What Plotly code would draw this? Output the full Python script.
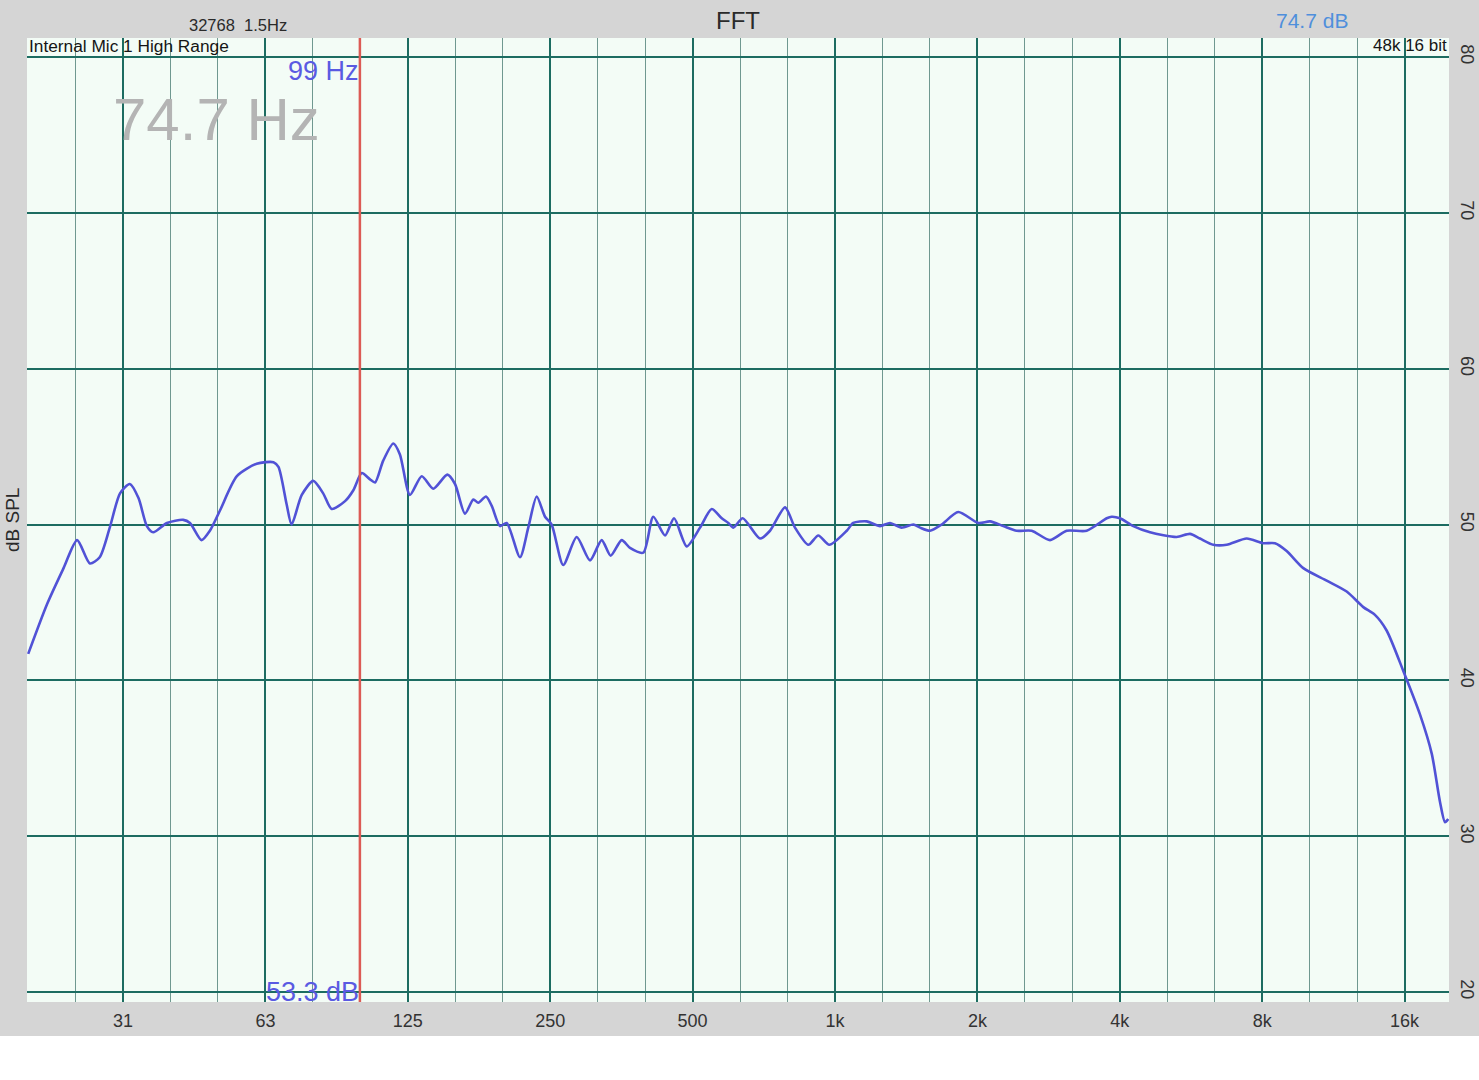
import plotly.graph_objects as go

# ---- data ----
freq_hz = [19.7, 21.6, 23.4, 25.0, 26.6, 27.9, 29.3, 30.8, 32.3, 33.7, 35.1, 36.2, 38.7, 41.9,
           43.3, 45.8, 47.7, 50.1, 54.4, 59.9, 65.0, 66.6, 69.3, 71.0, 74.6, 78.9, 82.8, 86.3,
           92.1, 95.9, 99.9, 104.0, 106.6, 110.9, 116.5, 120.3, 126.3, 133.8, 141.5, 151.5,
           157.3, 165.1, 172.0, 176.2, 182.9, 188.1, 195.8, 202.3, 215.8, 224.7, 234.1, 243.8,
           251.8, 266.4, 284.4, 303.5, 321.2, 335.6, 354.1, 368.7, 393.4, 412.8, 437.2, 456.9,
           485.9, 518.4, 548.8, 576.3, 595.0, 609.7, 638.1, 694.1, 728.8, 784.1, 823.1, 878.1,
           921.9, 972.8, 1059, 1093, 1167, 1245, 1307, 1383, 1464, 1513, 1588, 1681, 1822,
           2009, 2127, 2269, 2422, 2605, 2848, 3089, 3404, 3753, 3844, 4004, 4272, 4634, 5276,
           5629, 5910, 6306, 6730, 7419, 8043, 8513, 9012, 9772, 10950, 12070, 13090, 13850,
           14660, 15900, 17250, 18260, 19010, 19480, 19790]
level_db = [41.7, 44.9, 47.2, 49.0, 47.5, 47.9, 49.8, 52.0, 52.6, 51.7, 49.9, 49.5, 50.1, 50.3,
            50.1, 49.0, 49.6, 50.9, 53.1, 53.9, 54.0, 53.7, 51.3, 50.0, 51.9, 52.8, 52.0, 51.0,
            51.5, 52.2, 53.3, 52.9, 52.7, 54.1, 55.2, 54.5, 51.9, 53.1, 52.3, 53.2,
            52.6, 50.7, 51.6, 51.4, 51.8, 51.2, 49.9, 50.1, 47.9, 49.8, 51.8, 50.5,
            50.0, 47.4, 49.2, 47.7, 49.0, 48.0, 49.0, 48.5, 48.2, 50.5, 49.3, 50.4,
            48.6, 49.8, 51.0, 50.4, 50.1, 49.8, 50.4, 49.1, 49.6, 51.1, 49.8, 48.7,
            49.3, 48.7, 49.6, 50.1, 50.2, 49.9, 50.1, 49.8, 50.0, 49.8, 49.6, 50.0, 50.8,
            50.1, 50.2, 49.9, 49.6, 49.6, 49.0, 49.6, 49.6, 50.4, 50.5, 50.4, 49.9, 49.5, 49.2,
            49.4, 49.1, 48.7, 48.7, 49.1, 48.8, 48.8, 48.3, 47.2, 46.4, 45.7, 44.7, 44.2,
            43.2, 40.6, 37.8, 35.3, 32.2, 30.9, 31.1]

x_major_ticks = [31.25, 62.5, 125, 250, 500, 1000, 2000, 4000, 8000, 16000]
x_major_text = ["31", "63", "125", "250", "500", "1k", "2k", "4k", "8k", "16k"]
x_minor_ticks = [24.8, 39.37, 49.61, 78.75, 99.21, 157.5, 198.4, 315.0, 396.9, 630.0, 793.7,
                 1260, 1587, 2520, 3175, 5040, 6350, 10079, 12699]
y_ticks = [20, 30, 40, 50, 60, 70, 80]
y_text = ["20", "30", "40", "50", "60", "70", "80"]

cursor_hz = 99
cursor_db = 53.3
peak_hz_text = "74.7 Hz"
peak_db_text = "74.7 dB"

# ---- layout geometry (pixels) ----
W, H = 1479, 1080
L, R, T, B = 27, 1449, 38, 1002
FONT = "Liberation Sans, Arial, Helvetica, sans-serif"
MAJOR = "#1c6c61"
MINOR = "#6f9890"
CURVE = "#5152d6"


def px(x):
    return (x - L) / (R - L)


def py(y):
    return (B - y) / (B - T)


fig = go.Figure()
fig.add_trace(go.Scatter(
    x=freq_hz, y=level_db, mode="lines",
    line=dict(color=CURVE, width=2.6, shape="spline", smoothing=0.7),
    hoverinfo="x+y", showlegend=False,
))

fig.update_layout(
    width=W, height=H, autosize=False,
    margin=dict(l=L, r=W - R, t=T, b=H - B, pad=0, autoexpand=False),
    paper_bgcolor="#d5d5d5",
    plot_bgcolor="#f3fcf6",
    font=dict(family=FONT, color="#333333"),
    showlegend=False,
    xaxis=dict(
        type="log", range=[1.29191, 4.29800], automargin=False,
        tickmode="array", tickvals=x_major_ticks, ticktext=x_major_text,
        showgrid=True, gridcolor=MAJOR, gridwidth=2,
        zeroline=False, showline=False, ticks="",
        tickfont=dict(size=18, color="#333333"),
        ticklabelstandoff=6,
        minor=dict(tickmode="array", tickvals=x_minor_ticks, showgrid=True,
                   gridcolor=MINOR, gridwidth=1.3, ticks=""),
    ),
    yaxis=dict(
        range=[19.36, 81.22], side="right", automargin=False,
        tickmode="array", tickvals=y_ticks, ticktext=y_text,
        tickangle=90,
        showgrid=True, gridcolor=MAJOR, gridwidth=2,
        zeroline=False, showline=False, ticks="",
        tickfont=dict(size=18, color="#333333"),
        ticklabelstandoff=7,
    ),
)

# white strip at the very bottom of the page
fig.add_shape(type="rect", xref="paper", yref="paper",
              x0=px(0), x1=px(W), y0=py(H), y1=py(1036),
              fillcolor="white", line=dict(width=0), layer="above")

# red cursor line
fig.add_shape(type="line", xref="x", yref="paper",
              x0=cursor_hz, x1=cursor_hz, y0=0, y1=1,
              line=dict(color="#dc5a55", width=2.5), layer="above")

ann = [
    dict(text="FFT", x=px(738), y=py(20), size=24, color="#2a2a2a", xanchor="center"),
    dict(text="32768\u00a0 1.5Hz", x=px(238), y=py(25), size=16.5, color="#2a2a2a", xanchor="center"),
    dict(text=peak_db_text, x=px(1312), y=py(20), size=21, color="#4f8fdc", xanchor="center"),
    dict(text="Internal Mic 1 High Range", x=px(28), y=py(46), size=17.3, color="#151515", xanchor="left"),
    dict(text="48k 16 bit", x=px(1448), y=py(46), size=17, color="#151515", xanchor="right"),
    dict(text=f"{cursor_hz} Hz", x=px(360), y=py(71), size=27, color="#5a5ae2", xanchor="right"),
    dict(text=peak_hz_text, x=px(112), y=py(119), size=60, color="#b4b4b4", xanchor="left"),
    dict(text=f"{cursor_db} dB", x=px(360), y=py(992), size=27, color="#5a5ae2", xanchor="right"),
]
for a in ann:
    fig.add_annotation(text=a["text"], xref="paper", yref="paper", x=a["x"], y=a["y"],
                       xanchor=a["xanchor"], yanchor="middle", showarrow=False,
                       font=dict(family=FONT, size=a["size"], color=a["color"]),
                       borderpad=0)

fig.add_annotation(text="dB SPL", xref="paper", yref="paper", x=px(12), y=py(520),
                   xanchor="center", yanchor="middle", showarrow=False, textangle=-90,
                   font=dict(family=FONT, size=19, color="#2a2a2a"))

fig.write_html(
    "out.html",
    config={"responsive": False, "displayModeBar": False},
    post_script=("document.body.style.margin='0';document.body.style.padding='0';"
                 "document.body.style.overflow='hidden';"
                 "document.documentElement.style.overflow='hidden';"),
)
